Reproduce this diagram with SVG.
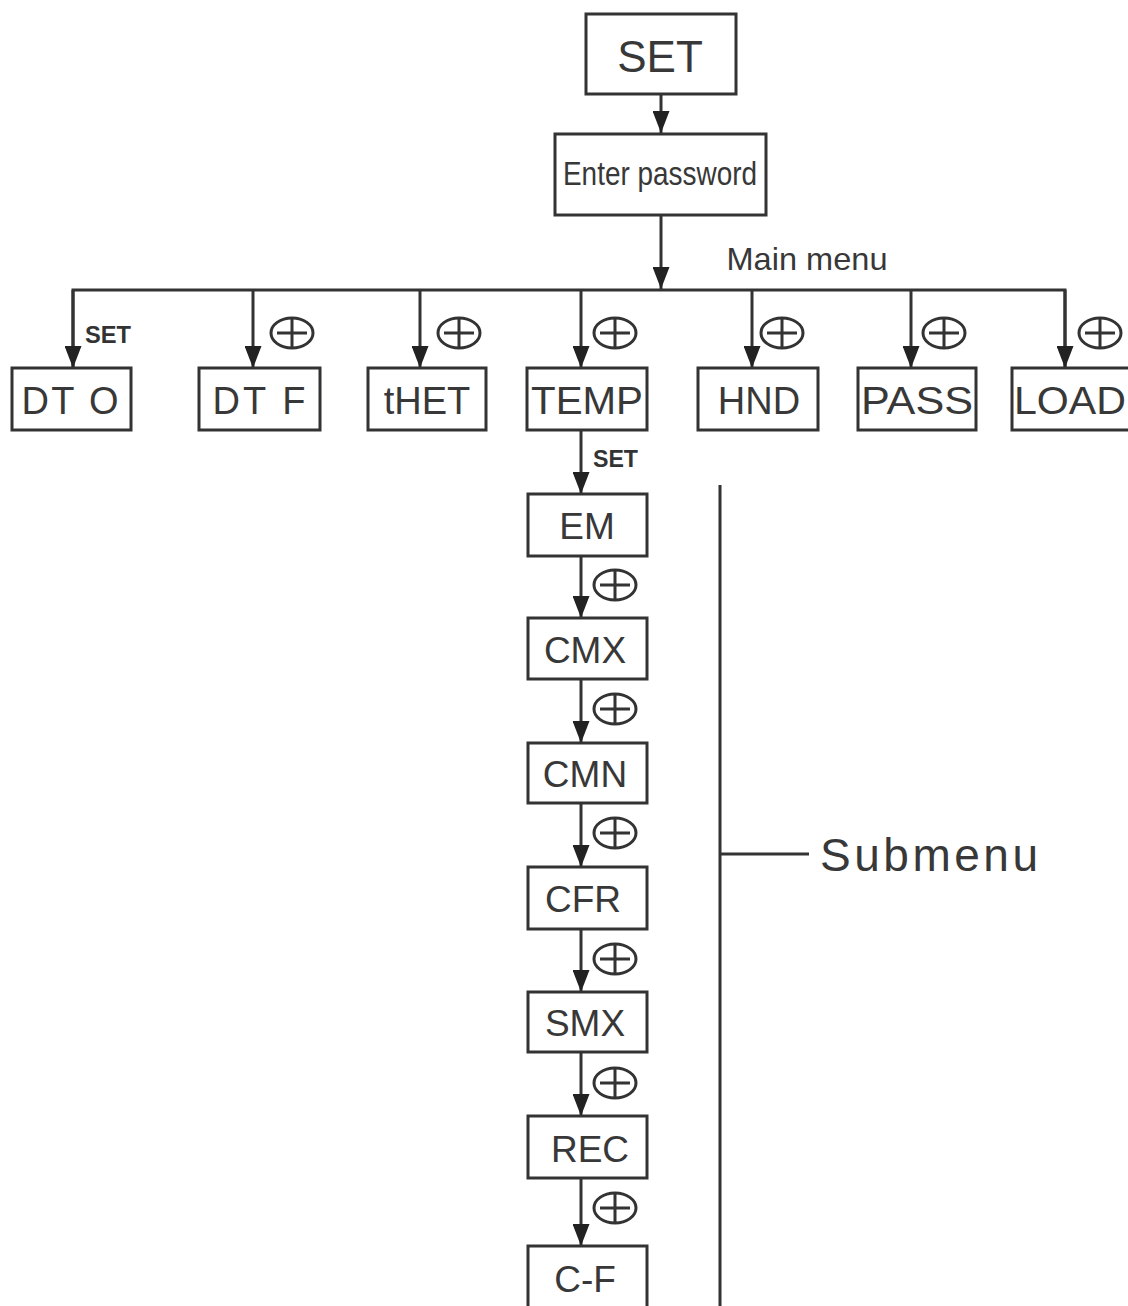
<svg xmlns="http://www.w3.org/2000/svg" width="1128" height="1306" viewBox="0 0 1128 1306">
<style>
.box{fill:#fff;stroke:#333;stroke-width:3}
.ln{fill:none;stroke:#333;stroke-width:3}
.t{font-family:"Liberation Sans",Arial,sans-serif;fill:#383838;text-anchor:middle}
.m{font-size:38px}
.s{font-size:37px}
.b{font-family:"Liberation Sans",Arial,sans-serif;font-weight:bold;font-size:24px;fill:#333}
</style>
<defs>
<marker id="ah" viewBox="0 0 17 22" refX="8.5" refY="22" markerWidth="17" markerHeight="22" orient="0" markerUnits="userSpaceOnUse">
<path d="M0,0 L17,0 L8.5,22 Z" fill="#222"/>
</marker>
<g id="plus">
<ellipse cx="0" cy="0" rx="21" ry="15" fill="#fff" stroke="#333" stroke-width="3"/>
<path d="M-15,0 H15 M0,-15 V15" stroke="#333" stroke-width="3"/>
</g>
</defs>
<rect width="1128" height="1306" fill="#fff"/>

<g id="connectors">
<line class="ln" x1="661" y1="94" x2="661" y2="133" marker-end="url(#ah)"/>
<line class="ln" x1="661" y1="215" x2="661" y2="289" marker-end="url(#ah)"/>
<polyline class="ln" points="73,368 73,290 1065,290 1065,368"/>
<line class="ln" x1="73" y1="290" x2="73" y2="368" marker-end="url(#ah)"/>
<line class="ln" x1="253" y1="290" x2="253" y2="368" marker-end="url(#ah)"/>
<line class="ln" x1="420" y1="290" x2="420" y2="368" marker-end="url(#ah)"/>
<line class="ln" x1="581" y1="290" x2="581" y2="368" marker-end="url(#ah)"/>
<line class="ln" x1="752" y1="290" x2="752" y2="368" marker-end="url(#ah)"/>
<line class="ln" x1="911" y1="290" x2="911" y2="368" marker-end="url(#ah)"/>
<line class="ln" x1="1065" y1="290" x2="1065" y2="368" marker-end="url(#ah)"/>
<line class="ln" x1="581" y1="430" x2="581" y2="494" marker-end="url(#ah)"/>
<line class="ln" x1="581" y1="556" x2="581" y2="618" marker-end="url(#ah)"/>
<line class="ln" x1="581" y1="679" x2="581" y2="743" marker-end="url(#ah)"/>
<line class="ln" x1="581" y1="803" x2="581" y2="867" marker-end="url(#ah)"/>
<line class="ln" x1="581" y1="929" x2="581" y2="992" marker-end="url(#ah)"/>
<line class="ln" x1="581" y1="1052" x2="581" y2="1116" marker-end="url(#ah)"/>
<line class="ln" x1="581" y1="1178" x2="581" y2="1246" marker-end="url(#ah)"/>
<use href="#plus" x="292" y="333"/>
<use href="#plus" x="459" y="333"/>
<use href="#plus" x="615" y="333"/>
<use href="#plus" x="782" y="333"/>
<use href="#plus" x="944" y="333"/>
<use href="#plus" x="1100" y="333"/>
<use href="#plus" x="615" y="585"/>
<use href="#plus" x="615" y="709"/>
<use href="#plus" x="615" y="833"/>
<use href="#plus" x="615" y="959"/>
<use href="#plus" x="615" y="1083"/>
<use href="#plus" x="615" y="1208"/>
<text class="b" x="85" y="343" textLength="46" lengthAdjust="spacingAndGlyphs">SET</text>
<text class="b" x="593" y="467" textLength="45" lengthAdjust="spacingAndGlyphs">SET</text>
</g>

<g id="n-set"><rect class="box" x="586" y="14" width="150" height="80"/><text class="t" x="660" y="72" font-size="44">SET</text></g>
<g id="n-password"><rect class="box" x="555" y="134" width="211" height="81"/><text class="t" x="660" y="185" font-size="34" textLength="194" lengthAdjust="spacingAndGlyphs">Enter password</text></g>
<g id="n-mainmenu-label"><text class="t" x="807" y="270" font-size="32" textLength="161" lengthAdjust="spacingAndGlyphs">Main menu</text></g>

<g id="n-dto"><rect class="box" x="12" y="368" width="119" height="62"/><text class="t m" x="70" y="414" textLength="97" lengthAdjust="spacing">DT O</text></g>
<g id="n-dtf"><rect class="box" x="199" y="368" width="121" height="62"/><text class="t m" x="259" y="414" textLength="93" lengthAdjust="spacing">DT F</text></g>
<g id="n-thet"><rect class="box" x="368" y="368" width="118" height="62"/><text class="t m" x="427" y="414">tHET</text></g>
<g id="n-temp"><rect class="box" x="527" y="368" width="120" height="62"/><text class="t m" x="587" y="414" textLength="112" lengthAdjust="spacingAndGlyphs">TEMP</text></g>
<g id="n-hnd"><rect class="box" x="698" y="368" width="120" height="62"/><text class="t m" x="759" y="414">HND</text></g>
<g id="n-pass"><rect class="box" x="858" y="368" width="118" height="62"/><text class="t m" x="917" y="414" textLength="112" lengthAdjust="spacingAndGlyphs">PASS</text></g>
<g id="n-load"><rect class="box" x="1012" y="368" width="130" height="62"/><text class="t m" x="1070" y="414" textLength="112" lengthAdjust="spacingAndGlyphs">LOAD</text></g>

<g id="n-em"><rect class="box" x="528" y="494" width="119" height="62"/><text class="t s" x="587" y="539">EM</text></g>
<g id="n-cmx"><rect class="box" x="528" y="618" width="119" height="61"/><text class="t s" x="585" y="663">CMX</text></g>
<g id="n-cmn"><rect class="box" x="528" y="743" width="119" height="60"/><text class="t s" x="585" y="787">CMN</text></g>
<g id="n-cfr"><rect class="box" x="528" y="867" width="119" height="62"/><text class="t s" x="583" y="912">CFR</text></g>
<g id="n-smx"><rect class="box" x="528" y="992" width="119" height="60"/><text class="t s" x="585" y="1036">SMX</text></g>
<g id="n-rec"><rect class="box" x="528" y="1116" width="119" height="62"/><text class="t s" x="590" y="1162">REC</text></g>
<g id="n-cf"><rect class="box" x="528" y="1246" width="119" height="62"/><text class="t s" x="585" y="1292">C-F</text></g>

<g id="n-submenu">
<line class="ln" x1="720" y1="485" x2="720" y2="1306"/>
<line class="ln" x1="720" y1="854" x2="809" y2="854"/>
<text class="t" x="820" y="871" font-size="46" style="text-anchor:start" textLength="218" lengthAdjust="spacing">Submenu</text>
</g>
</svg>
